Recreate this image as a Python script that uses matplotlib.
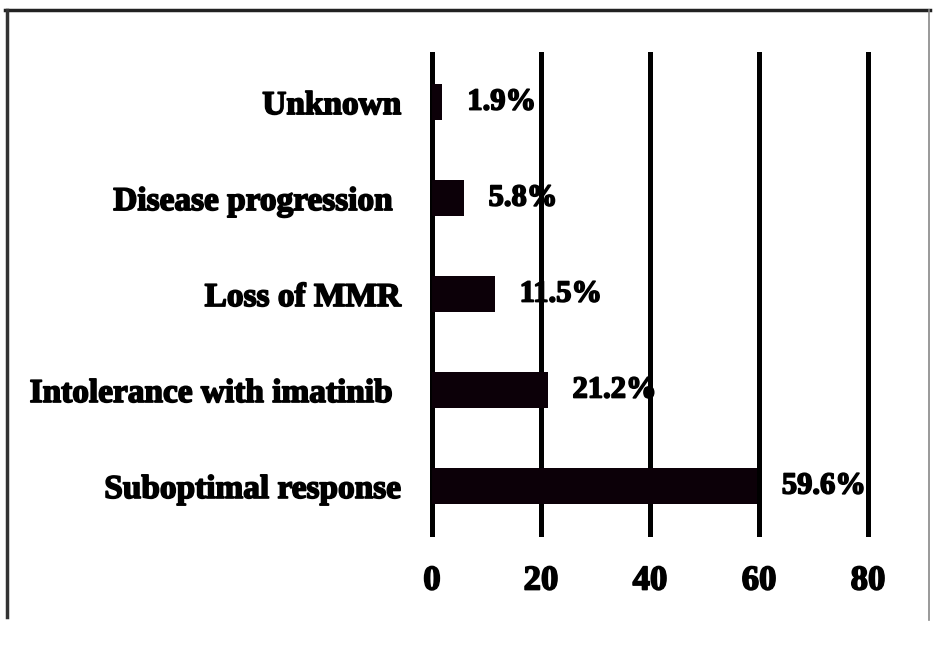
import matplotlib
matplotlib.use('Agg')
import matplotlib.pyplot as plt
import matplotlib.patheffects as pe
from matplotlib.lines import Line2D

categories = ['Suboptimal response', 'Intolerance with imatinib ', 'Loss of MMR',
              'Disease progression ', 'Unknown']
values = [59.6, 21.2, 11.5, 5.8, 1.9]
labels = ['59.6%', '21.2%', '11.5%', '5.8%', '1.9%']
xticks = [0, 20, 40, 60, 80]

plt.rcParams['font.family'] = ['Liberation Serif', 'DejaVu Serif']
plt.rcParams['font.weight'] = 'bold'

# texto mais "pesado", como no original
heavy = [pe.withStroke(linewidth=1.2, foreground='black')]

fig = plt.figure(figsize=(9.5, 6.52), dpi=100)
ax = fig.add_axes([0.4547, 0.181, 0.4590, 0.736])

pos = range(len(categories))
ax.barh(pos, values, height=0.38, color='#0c0008', zorder=3)

# etiquetas de valor fora da barra
for p, v, t in zip(pos, values, labels):
    ax.annotate(t, xy=(v, p), xytext=(18, 0), textcoords='offset points',
                ha='left', va='center', fontsize=22, fontweight='bold', zorder=4,
                path_effects=heavy)

ax.set_xlim(0, 80)
ax.set_ylim(-0.5, 4.5)
ax.set_xticks(xticks)
ax.set_xticklabels([str(x) for x in xticks], fontsize=25, fontweight='bold',
                   path_effects=heavy)
ax.set_yticks(list(pos))
ax.set_yticklabels(categories, fontsize=24, fontweight='bold', path_effects=heavy)
ax.tick_params(axis='x', length=0, pad=22)
ax.tick_params(axis='y', length=0, pad=22)
ax.grid(axis='x', color='black', linewidth=3.6, zorder=1)
for gl in ax.get_xgridlines():
    gl.set_clip_on(False)
ax.set_axisbelow(True)
for s in ax.spines.values():
    s.set_visible(False)

# moldura da figura (sem linha de baixo)
W, H = 950, 652
fig.add_artist(Line2D([5 / W, 930 / W], [1 - 10 / H, 1 - 10 / H], color='#222222', linewidth=2.5))
fig.add_artist(Line2D([7 / W, 7 / W], [1 - 10 / H, 1 - 617 / H], color='#333333', linewidth=2.5))
fig.add_artist(Line2D([929 / W, 929 / W], [1 - 10 / H, 1 - 620 / H], color='#888888', linewidth=1.2))

fig.savefig('out.png', dpi=100)
